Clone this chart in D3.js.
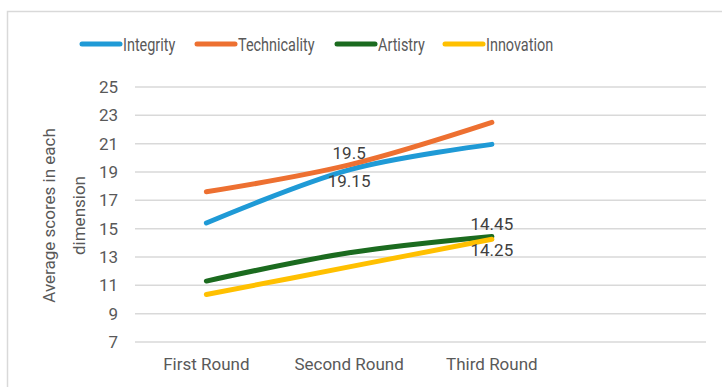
<!DOCTYPE html>
<html>
<head>
<meta charset="utf-8">
<script src="https://cdn.jsdelivr.net/npm/d3@7"></script>
<style>
  body { margin: 0; background: #fff; }
  text { font-family: Roboto, sans-serif; fill: #595959; }
</style>
</head>
<body>
<svg id="chart"></svg>
<script>
// data
const rounds = ['First Round', 'Second Round', 'Third Round', ''];
const seriesNames = ['Integrity', 'Technicality', 'Artistry', 'Innovation'];
const integrity = [15.4, 19.15, 20.95];
const technicality = [17.6, 19.5, 22.5];
const artistry = [11.3, 13.3, 14.45];
const innovation = [10.35, 12.3, 14.25];
const yTicks = [7, 9, 11, 13, 15, 17, 19, 21, 23, 25];
const colors = ['#1f9ad6', '#ed7031', '#1b6b1f', '#ffc000'];
// which points carry a label and where (above / below)
const labels = [
  {series: 1, idx: 1, pos: 'above'},
  {series: 0, idx: 1, pos: 'below'},
  {series: 2, idx: 2, pos: 'above'},
  {series: 3, idx: 2, pos: 'below'}
];

const width = 722, height = 387;
const svg = d3.select('#chart').attr('width', width).attr('height', height);

// outer chart border
svg.append('rect')
  .attr('x', 7.5).attr('y', 11.5)
  .attr('width', width + 10).attr('height', height + 10)
  .attr('fill', 'none').attr('stroke', '#d9d9d9').attr('stroke-width', 1.5);

const margin = {top: 87, right: 16, bottom: 45, left: 135};
const x = d3.scaleBand().domain(rounds).range([margin.left, width - margin.right]);
const y = d3.scaleLinear().domain([7, 25]).range([height - margin.bottom, margin.top]);

// gridlines
svg.append('g').selectAll('line').data(yTicks).enter().append('line')
  .attr('x1', margin.left).attr('x2', width - margin.right)
  .attr('y1', d => y(d)).attr('y2', d => y(d))
  .attr('stroke', '#d9d9d9').attr('stroke-width', 1.5);

// y axis labels
const yAxis = svg.append('g')
  .attr('transform', `translate(${margin.left},0)`)
  .call(d3.axisLeft(y).tickValues(yTicks).tickSize(0).tickPadding(17));
yAxis.select('.domain').remove();
yAxis.selectAll('text').style('font-size', '17px').style('font-family', 'Roboto, sans-serif').attr('fill', '#595959');

// x axis labels
const xAxis = svg.append('g')
  .attr('transform', `translate(0,${height - margin.bottom})`)
  .call(d3.axisBottom(x).tickSize(0).tickPadding(16));
xAxis.select('.domain').remove();
xAxis.selectAll('text').style('font-size', '17px').style('font-family', 'Roboto, sans-serif').attr('fill', '#595959');

// y title
const title = svg.append('text')
  .attr('transform', `translate(55,${(margin.top + height - margin.bottom) / 2 + 1}) rotate(-90)`)
  .attr('text-anchor', 'middle')
  .style('font-size', '17px');
title.append('tspan').attr('x', 0).attr('dy', 0).text('Average scores in each');
title.append('tspan').attr('x', 0).attr('dy', 30).text('dimension');

// lines
const allSeries = [integrity, technicality, artistry, innovation];
const line = d3.line()
  .x((d, i) => x(rounds[i]) + x.bandwidth() / 2)
  .y(d => y(d))
  .curve(d3.curveCatmullRom.alpha(0.5));

svg.append('g').selectAll('path').data(allSeries).enter().append('path')
  .attr('d', line)
  .attr('fill', 'none')
  .attr('stroke', (d, i) => colors[i])
  .attr('stroke-width', 5)
  .attr('stroke-linecap', 'round');

// data labels
svg.append('g').selectAll('text').data(labels).enter().append('text')
  .attr('x', d => x(rounds[d.idx]) + x.bandwidth() / 2)
  .attr('y', d => y(allSeries[d.series][d.idx]) + (d.pos === 'above' ? -6 : 17))
  .attr('text-anchor', 'middle')
  .style('font-size', '17px')
  .style('fill', '#404040')
  .text(d => allSeries[d.series][d.idx]);

// legend
const legendX = [82, 197, 337, 445];
const legend = svg.append('g').selectAll('g').data(seriesNames).enter().append('g')
  .attr('transform', (d, i) => `translate(${legendX[i]},44)`);
legend.append('line')
  .attr('x1', 0).attr('x2', 38).attr('y1', 0).attr('y2', 0)
  .attr('stroke', (d, i) => colors[i]).attr('stroke-width', 5).attr('stroke-linecap', 'round');
// narrow font in the original, squeeze it a little
legend.append('text')
  .attr('transform', 'translate(41,7) scale(0.76,1)')
  .style('font-size', '19px')
  .text(d => d);
</script>
</body>
</html>
